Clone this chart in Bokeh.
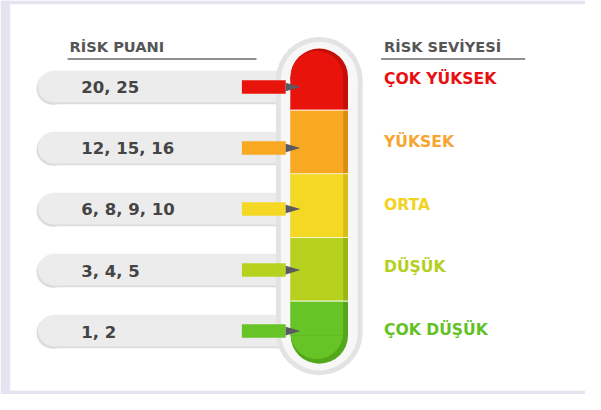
from bokeh.plotting import figure
from bokeh.models import Range1d
from bokeh.core.properties import value
from bokeh.embed import file_html
from bokeh.resources import INLINE

# ---- data ----
headers = ["RİSK PUANI", "RİSK SEVİYESİ"]
scores = ["20, 25", "12, 15, 16", "6, 8, 9, 10", "3, 4, 5", "1, 2"]
levels = ["ÇOK YÜKSEK", "YÜKSEK", "ORTA", "DÜŞÜK", "ÇOK DÜŞÜK"]
level_colors = ["#e8140c", "#f9a822", "#f4d824", "#b7d21e", "#66c426"]
dark_colors = ["#c40f08", "#d98e12", "#d9bd14", "#9bb512", "#52a81a"]
label_colors = ["#e81010", "#f7a530", "#f2d322", "#b4cf1e", "#62c224"]

# ---- figure: coordinate system spans the full 601x410 reference ----
W, H = 585, 394
RW, RH = 601, 410
p = figure(width=W, height=H, output_backend="svg", toolbar_location=None,
           x_range=Range1d(0, RW), y_range=Range1d(RH, 0),
           min_border=0, outline_line_color=None,
           background_fill_color="white", border_fill_color="white")
p.axis.visible = False
p.grid.visible = False

# lavender page edge
p.quad(left=[0, 0, 0], right=[10, RW, RW], top=[0, 0, 406], bottom=[RH, 4, RH],
       fill_color="#e4e4f0", line_color=None)

FONT = value("DejaVu Sans")
n = len(scores)
row_y = [90 + 63.5 * i for i in range(n)]
lab_y = [82 + 65.2 * i for i in range(n)]

# ---- headers ----
p.text(x=[71, 394], y=[48, 48], text=headers, text_font=FONT, text_font_style="bold",
       text_font_size="14.6px", text_color="#555555", text_baseline="middle", text_align="left")
p.segment(x0=[69, 391], y0=[61, 61], x1=[263, 539], y1=[61, 61],
          line_color="#6a6a6a", line_width=1.5)

# ---- left pills ----
pl, pr, ph = 37, 292, 34
p.quad(left=[pl + 16] * n, right=[pr] * n, top=[y - ph / 2 + 2 for y in row_y],
       bottom=[y + ph / 2 + 1 for y in row_y], fill_color="#dcdcdc", line_color=None)
p.ellipse(x=[pl + 17] * n, y=[y + 1.5 for y in row_y], width=ph, height=ph,
          fill_color="#dcdcdc", line_color=None)
p.quad(left=[pl + 17] * n, right=[pr] * n, top=[y - ph / 2 for y in row_y],
       bottom=[y + ph / 2 - 1 for y in row_y], fill_color="#ececec", line_color=None)
p.ellipse(x=[pl + 18] * n, y=[y - 0.5 for y in row_y], width=ph - 1, height=ph - 1,
          fill_color="#ececec", line_color=None)
p.text(x=[83] * n, y=[y + 1 for y in row_y], text=scores, text_font=FONT, text_font_style="bold",
       text_font_size="16.5px", text_color="#444444", text_baseline="middle", text_align="left")

# ---- thermometer glass ----
cx = 327.5
ot, ob, orr = 38, 390, 44.5
p.quad(left=[cx - orr], right=[cx + orr], top=[ot + orr], bottom=[ob - orr],
       fill_color="#e3e3e3", line_color=None)
p.ellipse(x=[cx, cx], y=[ot + orr, ob - orr], width=2 * orr, height=2 * orr,
          fill_color="#e3e3e3", line_color=None)
ir = orr - 5
p.quad(left=[cx - ir], right=[cx + ir], top=[ot + orr], bottom=[ob - orr],
       fill_color="#f7f7f7", line_color=None)
p.ellipse(x=[cx, cx], y=[ot + orr, ob - orr], width=2 * ir, height=2 * ir,
          fill_color="#f7f7f7", line_color=None)

# ---- thermometer coloured segments ----
tr = 29.5
t_top, t_bot = 50, 378
edges = [t_top] + [114 + 66.3 * k for k in range(n - 1)] + [t_bot]
tops = edges[:-1]
bots = edges[1:]
p.ellipse(x=[cx, cx], y=[t_top + tr, t_bot - tr], width=2 * tr, height=2 * tr,
          fill_color=[dark_colors[0], dark_colors[-1]], line_color=None)
p.ellipse(x=[cx - 2.5, cx - 2.5], y=[t_top + tr, t_bot - tr - 2.5], width=2 * tr - 5, height=2 * tr - 5,
          fill_color=[level_colors[0], level_colors[-1]], line_color=None)
seg_top = [t_top + tr] + tops[1:]
seg_bot = bots[:-1] + [t_bot - tr]
p.quad(left=[cx - tr] * n, right=[cx + tr] * n, top=seg_top, bottom=seg_bot,
       fill_color=dark_colors, line_color=None)
p.quad(left=[cx - tr] * n, right=[cx + tr - 5] * n, top=seg_top, bottom=seg_bot,
       fill_color=level_colors, line_color=None)
p.segment(x0=[cx - tr] * (n - 1), x1=[cx + tr] * (n - 1), y0=edges[1:-1], y1=edges[1:-1],
          line_color="white", line_width=1.2, line_alpha=0.8)

# ---- pointers ----
p.quad(left=[248] * n, right=[293] * n, top=[y - 7 for y in row_y], bottom=[y + 7 for y in row_y],
       fill_color=level_colors, line_color=None)
p.patches(xs=[[293, 308, 293] for _ in row_y],
          ys=[[y - 4.5, y, y + 4.5] for y in row_y],
          fill_color="#5a5a62", line_color=None)

# ---- level labels ----
p.text(x=[394] * n, y=lab_y, text=levels, text_font=FONT, text_font_style="bold",
       text_font_size="15.6px", text_color=label_colors, text_baseline="middle", text_align="left")

open("out.html", "w").write(file_html(p, INLINE))
